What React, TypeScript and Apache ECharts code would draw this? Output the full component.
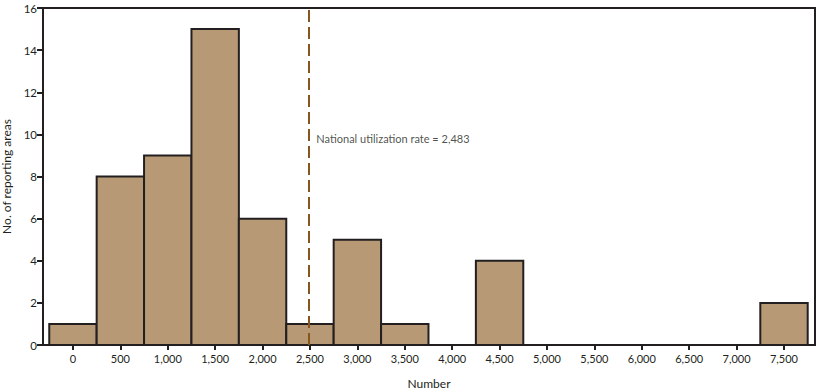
import React, { useEffect, useRef } from "react";
import * as echarts from "echarts";

const binStarts = [0, 500, 1000, 1500, 2000, 2500, 3000, 3500, 4000, 4500, 5000, 5500, 6000, 6500, 7000, 7500];
const counts = [1, 8, 9, 15, 6, 1, 5, 1, 0, 4, 0, 0, 0, 0, 0, 2];
const tickLabels = ["0", "500", "1,000", "1,500", "2,000", "2,500", "3,000", "3,500", "4,000", "4,500", "5,000", "5,500", "6,000", "6,500", "7,000", "7,500"];
const binWidth = 500;
const nationalRate = 2483;
const nationalLabel = "National utilization rate = 2,483";
const labelY = 9.8;

const FONT = "Lato";
const INK = "#231f20";

export default function App() {
  const ref = useRef<HTMLDivElement>(null);
  useEffect(() => {
    if (!ref.current) return;
    const chart = echarts.init(ref.current, null, { renderer: "svg" });
    chart.setOption({
      animation: false,
      grid: {
        left: 43, right: 10, top: 8, bottom: 47,
        outerBoundsMode: "none", containLabel: false,
        show: true, borderColor: INK, borderWidth: 2, backgroundColor: "transparent",
      },
      xAxis: {
        type: "value",
        min: -316,
        max: 7827,
        name: "Number",
        nameLocation: "middle",
        nameGap: 32,
        nameTextStyle: { fontFamily: FONT, fontSize: 12, color: INK },
        splitLine: { show: false },
        axisLine: { onZero: false, lineStyle: { color: INK, width: 2 } },
        axisTick: { show: true, length: 5, lineStyle: { color: INK, width: 2 }, customValues: binStarts },
        axisLabel: {
          customValues: binStarts,
          fontFamily: FONT,
          fontSize: 11,
          color: INK,
          margin: 8,
          formatter: (v: number) => tickLabels[binStarts.indexOf(v)] ?? "",
        },
      },
      yAxis: {
        type: "value",
        min: 0,
        max: 16,
        interval: 2,
        name: "No. of reporting areas",
        nameLocation: "middle",
        nameGap: 30,
        nameTextStyle: { fontFamily: FONT, fontSize: 12, color: INK },
        splitLine: { show: false },
        axisLine: { show: true, onZero: false, lineStyle: { color: INK, width: 2 } },
        axisTick: { show: true, length: 6, lineStyle: { color: INK, width: 2 } },
        axisLabel: { fontFamily: FONT, fontSize: 11.5, color: INK, margin: 6 },
      },
      series: [
        {
          type: "custom",
          data: binStarts.map((b, i) => [b, counts[i]]),
          renderItem: (params: any, api: any) => {
            const x = api.value(0);
            const y = api.value(1);
            if (!y) return null;
            const p1 = api.coord([x - binWidth / 2, y]);
            const p2 = api.coord([x + binWidth / 2, 0]);
            return {
              type: "rect",
              shape: { x: p1[0], y: p1[1], width: p2[0] - p1[0], height: p2[1] - p1[1] },
              style: { fill: "#b79a75", stroke: INK, lineWidth: 2 },
            };
          },
          z: 2,
        },
        {
          type: "scatter",
          data: [[nationalRate, labelY]],
          symbolSize: 0,
          label: {
            show: true,
            position: "right",
            distance: 8,
            formatter: nationalLabel,
            fontFamily: FONT,
            fontSize: 11,
            color: INK,
          },
          markLine: {
            silent: true,
            symbol: "none",
            label: { show: false },
            lineStyle: { color: "#86561d", type: [12, 5], width: 2 },
            data: [{ xAxis: nationalRate }],
          },
          z: 3,
        },
      ],
    });
    return () => chart.dispose();
  }, []);
  return <div ref={ref} style={{ position: "absolute", left: 0, top: 0, width: 825, height: 392 }} />;
}
